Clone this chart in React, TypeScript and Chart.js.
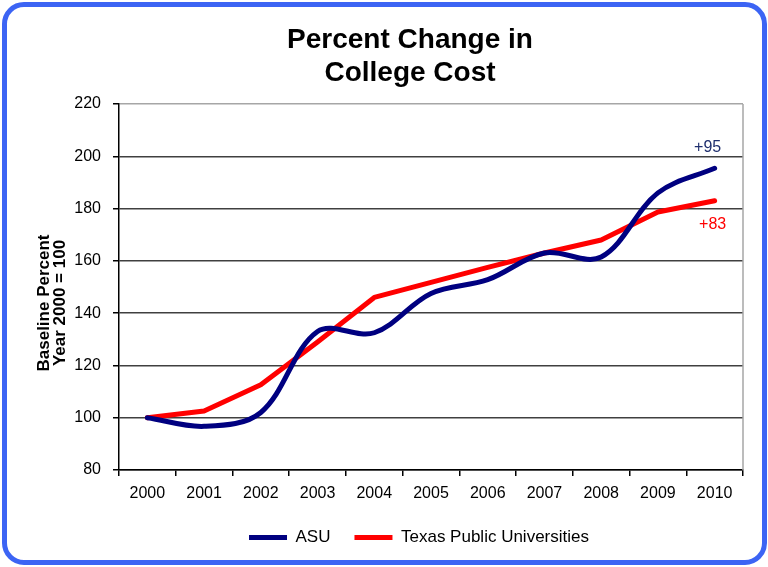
import React, { useEffect, useRef } from "react";
import { Chart, registerables } from "chart.js";

Chart.register(...registerables);

// ---- data ----
const years = ["2000", "2001", "2002", "2003", "2004", "2005", "2006", "2007", "2008", "2009", "2010"];
const asuValues = [100, 96.7, 102, 133, 132.5, 147.5, 152.8, 163, 161.5, 186, 195.4];
const texasValues = [100, 102.6, 112.6, 129, 146, 151.8, 157.5, 163, 168, 178.7, 183];
const seriesNames = ["ASU", "Texas Public Universities"];
const titleLines = ["Percent Change in", "College Cost"];
const yTitleLines = ["Baseline Percent", "Year 2000 = 100"];
const endLabelTexts = ["+95", "+83"];

// ---- styles ----
const FONT = "'Liberation Sans', Arial, sans-serif";
const ASU_COLOR = "#000080";
const TEXAS_COLOR = "#ff0000";
const endLabelStyles = [
  { color: "#1f2f6e", dx: -7, dy: -21 },
  { color: "#ff0000", dx: -2, dy: 24 },
];

const endLabelsPlugin = {
  id: "endLabels",
  afterDatasetsDraw(chart: any) {
    const { ctx } = chart;
    const xs = chart.scales.x;
    const ys = chart.scales.y;
    ctx.save();
    ctx.font = `16px ${FONT}`;
    ctx.textAlign = "center";
    ctx.textBaseline = "middle";
    endLabelTexts.forEach((txt, i) => {
      const data = chart.data.datasets[i].data as number[];
      const last = data.length - 1;
      const st = endLabelStyles[i];
      ctx.fillStyle = st.color;
      ctx.fillText(txt, xs.getPixelForValue(last) + st.dx, ys.getPixelForValue(data[last]) + st.dy);
    });
    ctx.restore();
  },
};

const frameAndTitlesPlugin = {
  id: "frameAndTitles",
  afterLayout(chart: any) {
    const t = chart.titleBlock;
    if (t) {
      const d = 410 - (t.left + t.right) / 2;
      t.left += d;
      t.right += d;
    }
    const l = chart.legend;
    if (l) {
      const d = 419 - (l.left + l.right) / 2;
      l.left += d;
      l.right += d;
    }
  },
  beforeDatasetsDraw(chart: any) {
    const { ctx, chartArea } = chart;
    ctx.save();
    ctx.strokeStyle = "#a6a6a6";
    ctx.lineWidth = 1.5;
    ctx.beginPath();
    ctx.moveTo(chartArea.right, chartArea.top);
    ctx.lineTo(chartArea.right, chartArea.bottom);
    ctx.stroke();
    ctx.restore();
  },
  afterDraw(chart: any) {
    const { ctx, chartArea } = chart;
    ctx.save();
    ctx.font = `bold 17px ${FONT}`;
    ctx.fillStyle = "#000";
    ctx.textAlign = "center";
    ctx.textBaseline = "middle";
    const cy = (chartArea.top + chartArea.bottom) / 2 + 16;
    yTitleLines.forEach((line, i) => {
      ctx.save();
      ctx.translate(44 + i * 16, cy);
      ctx.rotate(-Math.PI / 2);
      ctx.fillText(line, 0, 0);
      ctx.restore();
    });
    ctx.restore();
  },
};

export default function App() {
  const canvasRef = useRef<HTMLCanvasElement | null>(null);

  useEffect(() => {
    document.body.style.margin = "0";
    const canvas = canvasRef.current;
    if (!canvas) return;
    Chart.defaults.font.family = FONT;
    const chart = new Chart(canvas, {
      type: "line",
      data: {
        labels: years,
        datasets: [
          {
            label: seriesNames[0],
            data: asuValues,
            borderColor: ASU_COLOR,
            backgroundColor: ASU_COLOR,
            borderWidth: 5,
            tension: 0.35,
            pointRadius: 0,
            borderCapStyle: "round",
            borderJoinStyle: "round",
          },
          {
            label: seriesNames[1],
            data: texasValues,
            borderColor: TEXAS_COLOR,
            backgroundColor: TEXAS_COLOR,
            borderWidth: 5,
            tension: 0,
            pointRadius: 0,
            borderCapStyle: "round",
            borderJoinStyle: "round",
          },
        ],
      },
      options: {
        animation: false,
        responsive: false,
        devicePixelRatio: 1,
        layout: { padding: { left: 8, right: 25, top: 0, bottom: 11 } },
        plugins: {
          title: {
            display: true,
            text: titleLines,
            color: "#000",
            font: { size: 28, weight: "bold", lineHeight: "33px" } as any,
            padding: { top: 24, bottom: 14 },
          },
          legend: {
            position: "bottom",
            labels: {
              usePointStyle: true,
              pointStyle: "line",
              pointStyleWidth: 38,
              color: "#000",
              font: { size: 17 },
              padding: 24,
            },
          },
          tooltip: { enabled: false },
        },
        scales: {
          x: {
            offset: true,
            grid: {
              offset: true,
              drawOnChartArea: false,
              tickColor: "#000",
              tickLength: 6,
              lineWidth: 1.5,
            },
            border: { color: "#000", width: 1.5 },
            ticks: { color: "#000", font: { size: 16 }, padding: 8, maxRotation: 0, autoSkip: false },
            afterFit: (s: any) => {
              s.height = 35;
            },
          },
          y: {
            min: 80,
            max: 220,
            ticks: { stepSize: 20, color: "#000", font: { size: 16 }, padding: 12 },
            grid: {
              color: (c: any) => (c.tick && c.tick.value === 220 ? "#a6a6a6" : "#404040"),
              lineWidth: 1.5,
              tickColor: "#000",
              tickLength: 6,
            },
            border: { color: "#000", width: 1.5 },
            afterFit: (s: any) => {
              s.width = 111;
            },
          },
        },
      },
      plugins: [endLabelsPlugin, frameAndTitlesPlugin],
    });
    return () => chart.destroy();
  }, []);

  return (
    <div style={{ position: "relative", width: 768, height: 567, background: "#fff" }}>
      <canvas ref={canvasRef} width={768} height={567} style={{ display: "block" }} />
      <div
        style={{
          position: "absolute",
          left: 2,
          top: 2,
          width: 765,
          height: 563,
          boxSizing: "border-box",
          border: "5px solid #3c64f4",
          borderRadius: 22,
          pointerEvents: "none",
        }}
      />
    </div>
  );
}
